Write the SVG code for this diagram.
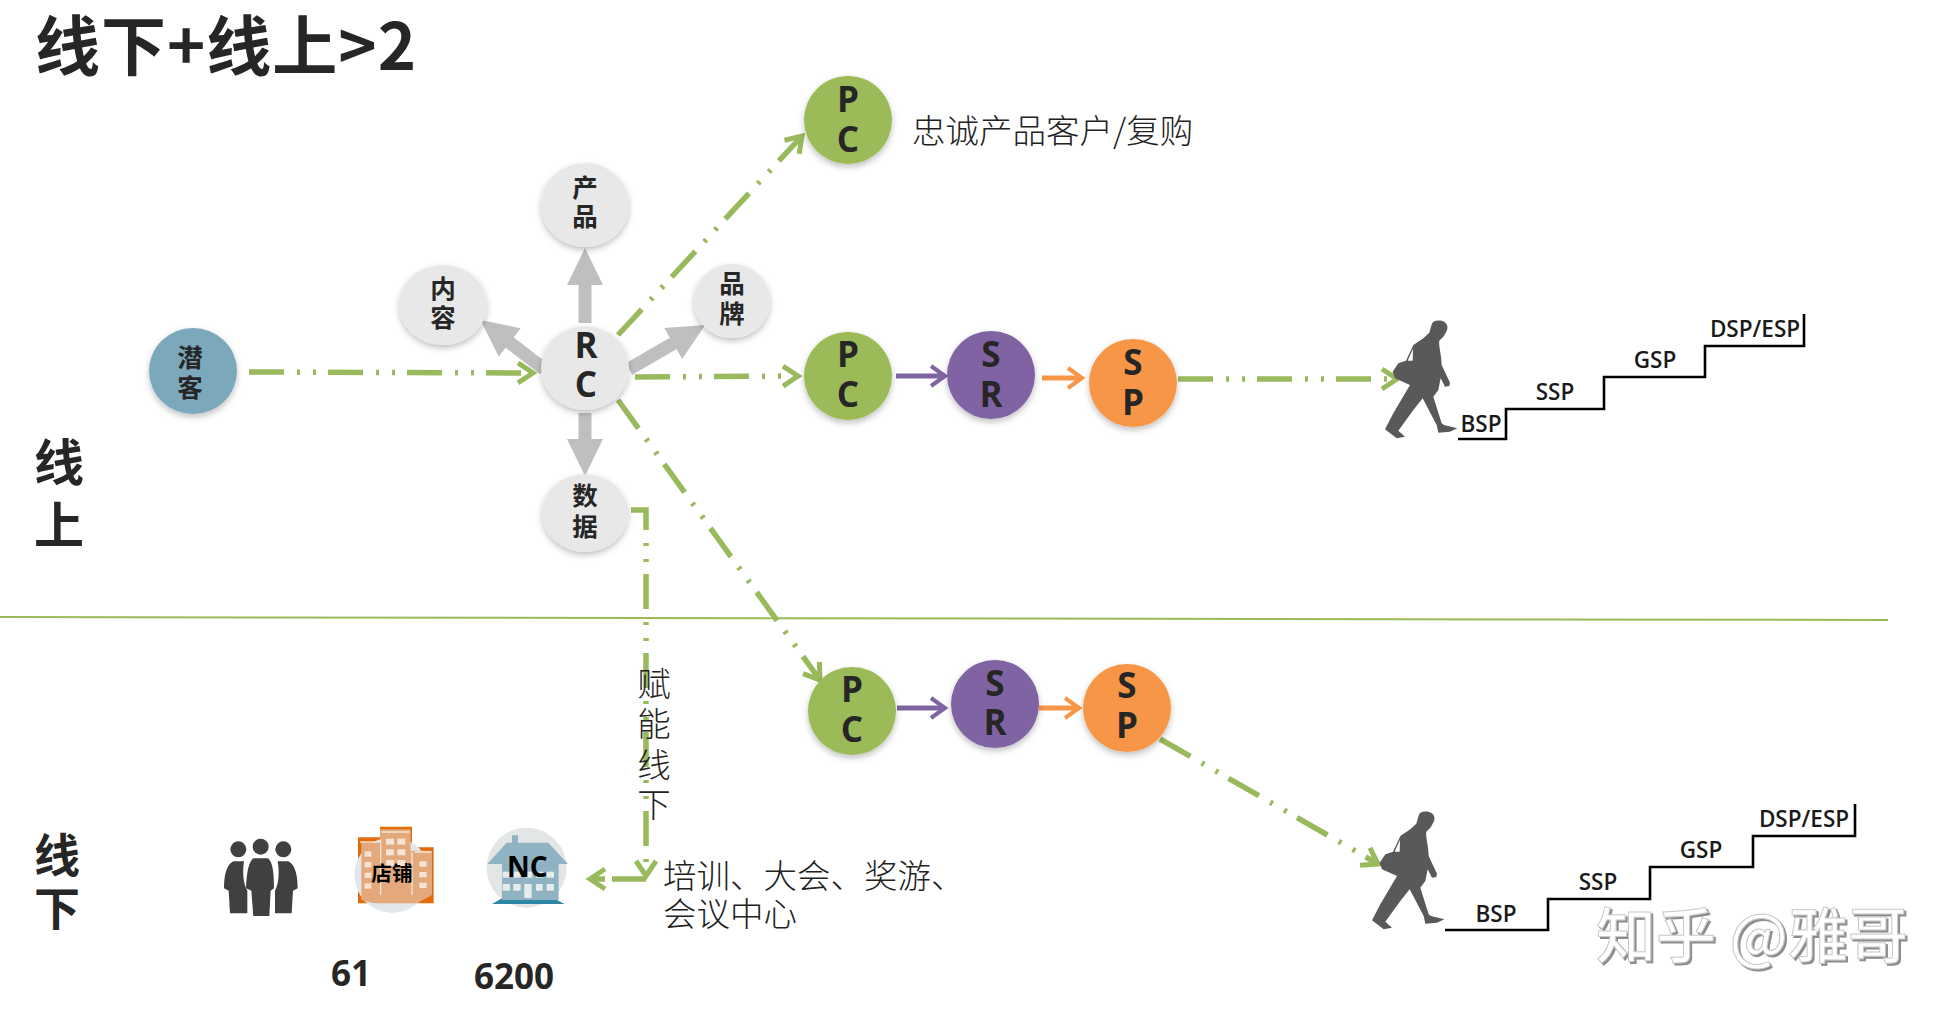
<svg xmlns="http://www.w3.org/2000/svg" xmlns:xlink="http://www.w3.org/1999/xlink" width="1959" height="1020" viewBox="0 0 1959 1020">
<style>
text{font-family:"Noto Sans CJK SC","Noto Sans",sans-serif;fill:#262626;text-anchor:middle}
.b{font-weight:700}
.l{font-family:"Open Sans","Noto Sans CJK SC",sans-serif;font-weight:700;font-size:35px}
.cn{font-size:25.5px;font-weight:700}
.st{font-family:"Open Sans",sans-serif;font-weight:600;font-size:22.5px;fill:#1a1a1a}
.lt{font-weight:300;font-size:33.5px;text-anchor:start;fill:#222}
.c{filter:url(#sh)}
.g{fill:none;stroke:#98B95C;stroke-width:5.5;stroke-dasharray:35 13 3 13 3 12}
.gs{fill:none;stroke:#98B95C;stroke-width:5.5;marker-end:url(#ag)}
.gr{stroke:#BFBFBF;stroke-width:13;marker-end:url(#ah)}
.stair{fill:none;stroke:#000;stroke-width:2.6}
</style>
<defs>
<filter id="sh" x="-20%" y="-20%" width="140%" height="140%"><feDropShadow dx="0" dy="3" stdDeviation="3" flood-color="#000" flood-opacity=".25"/></filter>
<filter id="wm" x="-5%" y="-10%" width="110%" height="120%"><feDropShadow dx="2" dy="2" stdDeviation=".6" flood-color="#8c8c8c" flood-opacity="1"/></filter>
<marker id="ag" markerUnits="userSpaceOnUse" markerWidth="32" markerHeight="32" viewBox="0 0 32 32" refX="24" refY="16" orient="auto"><path d="M9,6 L24,16 L9,26" fill="none" stroke="#98B95C" stroke-width="5"/></marker>
<marker id="ap" markerUnits="userSpaceOnUse" markerWidth="32" markerHeight="32" viewBox="0 0 32 32" refX="24" refY="16" orient="auto"><path d="M10,6 L24,16 L10,26" fill="none" stroke="#8064A2" stroke-width="4"/></marker>
<marker id="ao" markerUnits="userSpaceOnUse" markerWidth="32" markerHeight="32" viewBox="0 0 32 32" refX="24" refY="16" orient="auto"><path d="M10,6 L24,16 L10,26" fill="none" stroke="#F79646" stroke-width="4"/></marker>
<marker id="ah" markerUnits="userSpaceOnUse" markerWidth="38" markerHeight="38" viewBox="0 0 38 38" refX="1" refY="19" orient="auto"><path d="M0,1 L37,19 L0,37 Z" fill="#BFBFBF"/></marker>
<g id="walker">
<path d="M190,35 C205,28 228,32 232,48 C234,62 226,68 222,78 L208,92 C205,105 214,130 215,165 L240,218 L238,228 L225,230 L212,205 L205,240 L190,260 L215,340 L222,345 L262,355 L240,365 L205,368 L200,345 L158,265 L130,300 L85,362 L105,380 L80,385 L45,358 L70,310 L120,225 L75,205 L68,185 L85,160 L108,152 L130,105 L160,85 L178,68 C182,55 185,40 190,35 Z" fill="#595959"/>
<path d="M113,152 L129,116 L128,152 Z" fill="#fff"/>
</g>
</defs>
<rect width="1959" height="1020" fill="#fff"/>

<g id="title"><text class="b" x="35" y="70" font-size="65" letter-spacing="1" style="text-anchor:start">线下+线上&gt;2</text></g>
<g id="zone-online"><text class="b" x="59" y="481" font-size="50">线</text><text class="b" x="59" y="544" font-size="50">上</text></g>
<g id="zone-offline"><text class="b" x="57" y="872" font-size="46">线</text><text class="b" x="57" y="925" font-size="46">下</text></g>
<line id="divider" x1="0" y1="617" x2="1888" y2="620" stroke="#9BBB59" stroke-width="2"/>

<g id="connectors">
<line class="gr" x1="585" y1="323" x2="585" y2="284"/>
<line class="gr" x1="585" y1="413" x2="585" y2="440"/>
<line class="gr" x1="544" y1="369" x2="509" y2="342"/>
<line class="gr" x1="629" y1="369" x2="674" y2="343"/>
<path class="g" d="M249,372 L533,373" marker-end="url(#ag)"/>
<path class="g" d="M635,377 L798,376" marker-end="url(#ag)"/>
<path class="g" d="M618,335 L802,136" marker-end="url(#ag)"/>
<path class="g" d="M618,400 L820,680" marker-end="url(#ag)"/>
<path class="g" d="M631,510 H646 V876" marker-end="url(#ag)"/>
<path class="gs" d="M646,879 H612" style="marker-end:none"/>
<path class="gs" d="M605,879 L590,879"/>
<path d="M896,376 L945,376" fill="none" stroke="#8064A2" stroke-width="5" marker-end="url(#ap)"/>
<path d="M1042,378 L1082,378" fill="none" stroke="#F79646" stroke-width="5" marker-end="url(#ao)"/>
<path class="g" d="M1178,379 L1397,379" marker-end="url(#ag)"/>
<path d="M897,708 L945,708" fill="none" stroke="#8064A2" stroke-width="5" marker-end="url(#ap)"/>
<path d="M1039,708 L1079,708" fill="none" stroke="#F79646" stroke-width="5" marker-end="url(#ao)"/>
<path class="g" d="M1160,739 L1378,864" marker-end="url(#ag)"/>
</g>

<g id="n-qianke"><ellipse class="c" cx="193" cy="371" rx="44" ry="43" fill="#7BA8BB"/><text class="cn" x="190" y="367">潜</text><text class="cn" x="190" y="397">客</text></g>
<g id="n-rc"><ellipse class="c" cx="585" cy="368" rx="44" ry="42" fill="#E8E8E8"/><text class="l" x="586" y="358">R</text><text class="l" x="586" y="397">C</text></g>
<g id="n-product"><ellipse class="c" cx="585" cy="205" rx="44" ry="42" fill="#E8E8E8"/><text class="cn" x="585" y="197">产</text><text class="cn" x="585" y="226">品</text></g>
<g id="n-content"><ellipse class="c" cx="443" cy="305" rx="44" ry="40" fill="#E8E8E8"/><text class="cn" x="443" y="298">内</text><text class="cn" x="443" y="327">容</text></g>
<g id="n-brand"><ellipse class="c" cx="732" cy="301" rx="38" ry="37" fill="#E8E8E8"/><text class="cn" x="732" y="293">品</text><text class="cn" x="732" y="323">牌</text></g>
<g id="n-data"><ellipse class="c" cx="585" cy="513" rx="43" ry="39" fill="#E8E8E8"/><text class="cn" x="585" y="505">数</text><text class="cn" x="585" y="536">据</text></g>

<g id="n-pc1"><circle class="c" cx="848" cy="120" r="44" fill="#9BBB59"/><text class="l" x="848" y="112">P</text><text class="l" x="848" y="152">C</text></g>
<g id="n-pc2"><circle class="c" cx="848" cy="376" r="44" fill="#9BBB59"/><text class="l" x="848" y="367">P</text><text class="l" x="848" y="407">C</text></g>
<g id="n-sr2"><circle class="c" cx="991" cy="375" r="44" fill="#8064A2"/><text class="l" x="991" y="367">S</text><text class="l" x="991" y="407">R</text></g>
<g id="n-sp2"><circle class="c" cx="1133" cy="383" r="44" fill="#F79646"/><text class="l" x="1133" y="375">S</text><text class="l" x="1133" y="415">P</text></g>
<g id="n-pc3"><circle class="c" cx="852" cy="711" r="44" fill="#9BBB59"/><text class="l" x="852" y="702">P</text><text class="l" x="852" y="742">C</text></g>
<g id="n-sr3"><circle class="c" cx="995" cy="704" r="44" fill="#8064A2"/><text class="l" x="995" y="696">S</text><text class="l" x="995" y="735">R</text></g>
<g id="n-sp3"><circle class="c" cx="1127" cy="708" r="44" fill="#F79646"/><text class="l" x="1127" y="698">S</text><text class="l" x="1127" y="738">P</text></g>

<g id="label-loyal"><text class="lt" x="912" y="143">忠诚产品客户/复购</text></g>
<g id="label-enable"><text class="lt" x="654" y="696" style="text-anchor:middle">赋</text><text class="lt" x="654" y="736" style="text-anchor:middle">能</text><text class="lt" x="654" y="777" style="text-anchor:middle">线</text><text class="lt" x="654" y="817" style="text-anchor:middle">下</text></g>
<g id="label-training"><text class="lt" x="663" y="888">培训、大会、奖游、</text><text class="lt" x="663" y="926">会议中心</text></g>

<g id="walker1" transform="translate(1370,310) scale(.3333)"><use xlink:href="#walker" href="#walker"/></g>
<g id="walker2" transform="translate(1357,801) scale(.3333)"><use xlink:href="#walker" href="#walker"/></g>

<g id="stairs1"><path class="stair" d="M1458,439 H1506 V409 H1604 V377 H1705 V346 H1804 V314"/><text class="st" x="1481" y="432">BSP</text><text class="st" x="1555" y="400">SSP</text><text class="st" x="1655" y="368">GSP</text><text class="st" x="1755" y="337">DSP/ESP</text></g>
<g id="stairs2"><path class="stair" d="M1445,930 H1548 V899 H1650 V867 H1753 V836 H1855 V804"/><text class="st" x="1496" y="922">BSP</text><text class="st" x="1598" y="890">SSP</text><text class="st" x="1701" y="858">GSP</text><text class="st" x="1804" y="827">DSP/ESP</text></g>

<g id="n-people" transform="translate(200,820) scale(.3333)" fill="#404040">
<circle cx="115" cy="88" r="24"/><circle cx="182" cy="80" r="24"/><circle cx="250" cy="88" r="24"/>
<path d="M100,124 H132 C128,150 128,190 142,212 V280 H90 L86,212 L72,205 C72,170 78,135 100,124 Z"/>
<path d="M160,115 H204 C218,125 222,160 222,205 L212,212 L208,288 H160 L154,212 L138,205 C140,160 146,125 160,115 Z"/>
<path d="M233,124 H265 C287,135 293,170 293,205 L279,212 L275,280 H225 V212 C238,190 238,150 233,124 Z"/>
</g>

<g id="n-store" transform="translate(200,820) scale(.3333)">
<path d="M474,250 L474,52 H540 V20 H636 V82 H701 V250 Z" fill="#E36C0A"/>
<circle cx="577" cy="165" r="114" fill="#E3E6EA"/>
<path d="M484,240 V68 H540 V28 H632 V92 H696 V225 L650,250 H520 Z" fill="#E3A97C"/>
<g fill="#F6E3D2"><rect x="558" y="56" width="24" height="18"/><rect x="592" y="56" width="24" height="18"/><rect x="558" y="88" width="24" height="18"/><rect x="592" y="88" width="24" height="18"/><rect x="558" y="120" width="24" height="18"/><rect x="592" y="120" width="24" height="18"/><rect x="494" y="94" width="20" height="16"/><rect x="494" y="126" width="20" height="16"/><rect x="494" y="158" width="20" height="16"/><rect x="494" y="190" width="20" height="16"/><rect x="658" y="124" width="22" height="16"/><rect x="658" y="156" width="22" height="16"/><rect x="658" y="188" width="22" height="16"/></g>
<path d="M480,66 H532 M545,36 H628 M644,96 H694" stroke="#F6E3D2" stroke-width="5" fill="none"/>
<path d="M542,60 V225 M636,95 V225" stroke="#F6E3D2" stroke-width="4" fill="none"/>
<text class="b" x="576" y="184" font-size="62" style="fill:#000">店铺</text>
</g>

<g id="n-nc" transform="translate(200,820) scale(.3333)">
<circle cx="980" cy="143" r="120" fill="#E3E6E6"/>
<path d="M876,252 L906,235 H1060 L1094,252 Z" fill="#2F86A4"/>
<path d="M936,68 V46 H954 V68 H1045 L1104,132 H1076 V240 H906 V132 H862 L920,68 Z" fill="#8FB3C2"/>
<g fill="#E6EBEC"><rect x="908" y="155" width="20" height="18"/><rect x="940" y="155" width="22" height="18"/><rect x="975" y="155" width="22" height="18"/><rect x="1008" y="155" width="22" height="18"/><rect x="1040" y="155" width="22" height="18"/><rect x="908" y="192" width="22" height="20"/><rect x="940" y="192" width="22" height="20"/><rect x="973" y="192" width="22" height="42"/><rect x="1008" y="192" width="20" height="20"/><rect x="1040" y="192" width="22" height="20"/></g>
<text class="l" x="982" y="170" style="font-size:84px;fill:#000">NC</text>
</g>

<g id="count-store"><text class="l" x="351" y="986">61</text></g>
<g id="count-nc"><text class="l" x="514" y="989">6200</text></g>
<g id="watermark" filter="url(#wm)"><text x="1752" y="958" font-size="60" font-weight="500" style="fill:#fff;stroke:#c8c8c8;stroke-width:1">知乎 @雅哥</text></g>
</svg>
